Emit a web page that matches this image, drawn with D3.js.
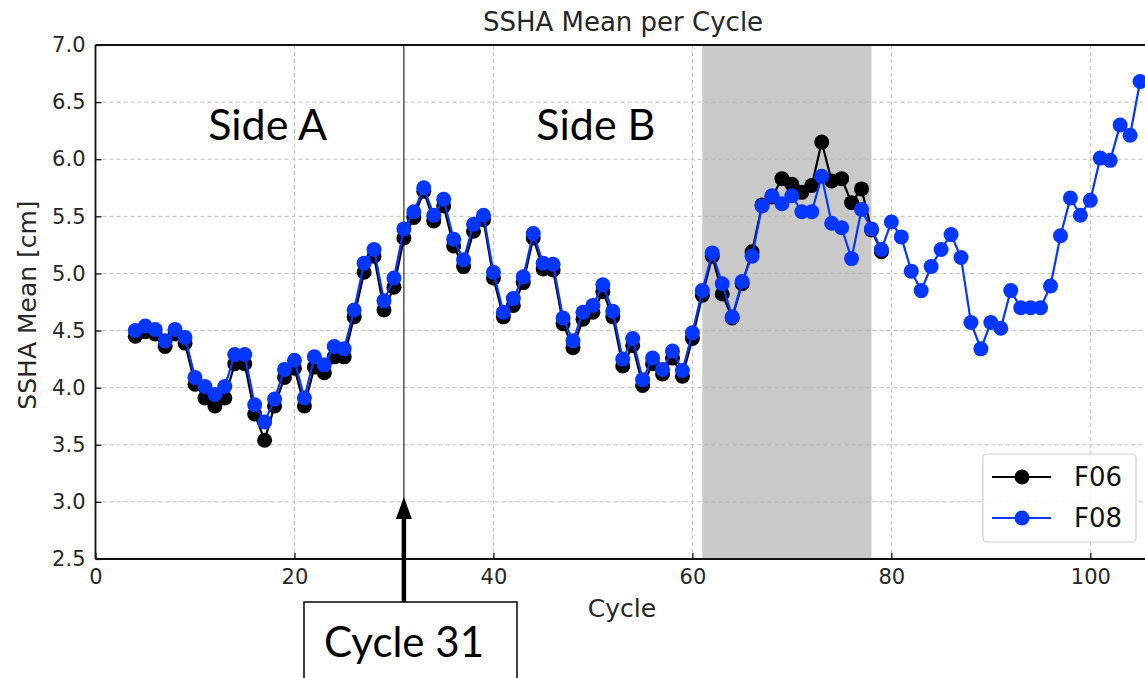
<!DOCTYPE html>
<html>
<head>
<meta charset="utf-8">
<script src="https://cdn.jsdelivr.net/npm/d3@7"></script>
<style>
  html, body { margin: 0; padding: 0; background: #fff; }
  svg { display: block; }
</style>
</head>
<body>
<svg id="chart" width="1145" height="678"></svg>
<script>
// SSHA mean per cycle for the two flight software versions
const cyclesF08 = [4,5,6,7,8,9,10,11,12,13,14,15,16,17,18,19,20,21,22,23,24,25,26,27,28,29,30,
  31,32,33,34,35,36,37,38,39,40,41,42,43,44,45,46,47,48,49,50,51,52,53,54,55,56,57,58,59,60,
  61,62,63,64,65,66,67,68,69,70,71,72,73,74,75,76,77,78,79,80,81,82,83,84,85,86,87,88,89,90,
  91,92,93,94,95,96,97,98,99,100,101,102,103,104,105];
const valuesF08 = [4.50,4.54,4.51,4.41,4.51,4.44,4.09,4.01,3.94,4.01,4.29,4.29,3.85,3.70,3.90,
  4.16,4.24,3.91,4.27,4.20,4.36,4.34,4.68,5.09,5.21,4.76,4.96,
  5.39,5.54,5.75,5.51,5.65,5.30,5.12,5.43,5.51,5.01,4.66,4.78,4.97,5.35,5.09,5.08,4.61,4.41,
  4.66,4.72,4.90,4.67,4.25,4.43,4.07,4.26,4.16,4.32,4.15,4.48,
  4.85,5.18,4.91,4.62,4.93,5.15,5.59,5.68,5.61,5.68,5.54,5.54,5.85,5.44,5.40,5.13,5.56,5.39,
  5.21,5.45,5.32,5.02,4.85,5.06,5.21,5.34,5.14,4.57,4.34,4.57,
  4.52,4.85,4.70,4.70,4.70,4.89,5.33,5.66,5.51,5.64,6.01,5.99,6.30,6.21,6.68];

const cyclesF06 = [4,5,6,7,8,9,10,11,12,13,14,15,16,17,18,19,20,21,22,23,24,25,26,27,28,29,30,
  31,32,33,34,35,36,37,38,39,40,41,42,43,44,45,46,47,48,49,50,51,52,53,54,55,56,57,58,59,60,
  61,62,63,64,65,66,67,68,69,70,71,72,73,74,75,76,77,78,79];
const valuesF06 = [4.45,4.49,4.47,4.36,4.47,4.39,4.03,3.91,3.84,3.91,4.21,4.21,3.77,3.54,3.84,
  4.09,4.17,3.84,4.18,4.13,4.27,4.27,4.62,5.01,5.15,4.68,4.88,
  5.31,5.49,5.72,5.46,5.59,5.24,5.06,5.37,5.47,4.96,4.62,4.72,4.92,5.31,5.04,5.03,4.56,4.35,
  4.60,4.66,4.84,4.62,4.19,4.37,4.02,4.21,4.12,4.26,4.10,4.43,
  4.81,5.15,4.82,4.61,4.91,5.19,5.60,5.67,5.83,5.78,5.71,5.77,6.15,5.81,5.83,5.62,5.74,5.38,5.19];

const xTicks = [0, 20, 40, 60, 80, 100];
const yTicks = [2.5, 3.0, 3.5, 4.0, 4.5, 5.0, 5.5, 6.0, 6.5, 7.0];
const shadedSpan = [61, 78];
const switchCycle = 31;
const sideLabels = [{text: "Side A", cycle: 17.3}, {text: "Side B", cycle: 50.3}];
const seriesNames = ["F06", "F08"];

const W = 1145, H = 678;
const plot = {left: 95.5, right: 1153, top: 45, bottom: 559};
const svg = d3.select("#chart");

const x = d3.scaleLinear().domain([0, 106.3]).range([plot.left, plot.right]);
const y = d3.scaleLinear().domain([2.5, 7.0]).range([plot.bottom, plot.top]);

const font = "DejaVu Sans, sans-serif";
const tickColor = "#262626";

svg.append("defs").append("clipPath").attr("id", "plotClip")
  .append("rect").attr("x", plot.left).attr("y", plot.top)
  .attr("width", plot.right - plot.left).attr("height", plot.bottom - plot.top);

// shaded interval
svg.append("rect")
  .attr("x", x(shadedSpan[0])).attr("y", plot.top)
  .attr("width", x(shadedSpan[1]) - x(shadedSpan[0]))
  .attr("height", plot.bottom - plot.top)
  .attr("fill", "#c9c9c9");

// grid
const grid = svg.append("g").attr("stroke", "#b8b8b8").attr("stroke-width", 1)
  .attr("stroke-dasharray", "4,3").attr("opacity", 0.9);
grid.selectAll("line.gx").data(xTicks.filter(d => d > 0)).join("line")
  .attr("x1", d => x(d)).attr("x2", d => x(d))
  .attr("y1", plot.top).attr("y2", plot.bottom);
grid.selectAll("line.gy").data(yTicks.filter(d => d > 2.5 && d < 7.0)).join("line")
  .attr("x1", plot.left).attr("x2", plot.right)
  .attr("y1", d => y(d)).attr("y2", d => y(d));

// axes with inward ticks
const xAxis = d3.axisBottom(x).tickValues(xTicks).tickFormat(d3.format("d"))
  .tickSizeInner(-6).tickSizeOuter(0).tickPadding(10);
const gx = svg.append("g").attr("transform", `translate(0,${plot.bottom})`).call(xAxis);
gx.select(".domain").remove();
gx.selectAll("text").attr("font-family", font).attr("font-size", 21).attr("fill", tickColor);
gx.selectAll("line").attr("stroke", "#000").attr("stroke-width", 1.2);

const yAxis = d3.axisLeft(y).tickValues(yTicks).tickFormat(d3.format(".1f"))
  .tickSizeInner(-6).tickSizeOuter(0).tickPadding(10);
const gy = svg.append("g").attr("transform", `translate(${plot.left},0)`).call(yAxis);
gy.select(".domain").remove();
gy.selectAll("text").attr("font-family", font).attr("font-size", 21).attr("fill", tickColor);
gy.selectAll("line").attr("stroke", "#000").attr("stroke-width", 1.2);

// cycle switch marker line
svg.append("line")
  .attr("x1", x(switchCycle)).attr("x2", x(switchCycle))
  .attr("y1", plot.top).attr("y2", plot.bottom)
  .attr("stroke", "#000").attr("stroke-width", 1);

// series
const series = [
  {name: seriesNames[0], xs: cyclesF06, vs: valuesF06, color: "#000000"},
  {name: seriesNames[1], xs: cyclesF08, vs: valuesF08, color: "#0336ff"}
];
const line = d3.line().x(d => x(d[0])).y(d => y(d[1]));
const marks = svg.append("g").attr("clip-path", "url(#plotClip)");
series.forEach(s => {
  const pts = s.xs.map((c, i) => [c, s.vs[i]]);
  const g = marks.append("g");
  g.append("path").datum(pts).attr("d", line)
    .attr("fill", "none").attr("stroke", s.color).attr("stroke-width", 2.2);
  g.selectAll("circle").data(pts).join("circle")
    .attr("cx", d => x(d[0])).attr("cy", d => y(d[1])).attr("r", 7.5)
    .attr("fill", s.color);
});

// spines
const spines = svg.append("g").attr("stroke", "#111").attr("stroke-width", 1.8);
spines.append("line").attr("x1", plot.left).attr("x2", plot.left).attr("y1", plot.top).attr("y2", plot.bottom);
spines.append("line").attr("x1", plot.left).attr("x2", plot.right).attr("y1", plot.bottom).attr("y2", plot.bottom);
spines.append("line").attr("x1", plot.left).attr("x2", plot.right).attr("y1", plot.top).attr("y2", plot.top);

// legend
const lg = svg.append("g");
lg.append("rect").attr("x", 983).attr("y", 454).attr("width", 153).attr("height", 88)
  .attr("rx", 4).attr("fill", "#fff").attr("fill-opacity", 0.85)
  .attr("stroke", "#d0d0d0").attr("stroke-width", 1.2);
series.forEach((s, i) => {
  const ly = 477 + i * 41;
  lg.append("line").attr("x1", 992).attr("x2", 1051).attr("y1", ly).attr("y2", ly)
    .attr("stroke", s.color).attr("stroke-width", 2.2);
  lg.append("circle").attr("cx", 1022).attr("cy", ly).attr("r", 7.5).attr("fill", s.color);
  lg.append("text").attr("x", 1074).attr("y", ly).attr("dy", "0.36em")
    .attr("font-family", font).attr("font-size", 26).attr("fill", "#111").text(s.name);
});

// titles
svg.append("text").attr("x", 623).attr("y", 31)
  .attr("text-anchor", "middle").attr("font-family", font).attr("font-size", 26)
  .attr("fill", tickColor).text("SSHA Mean per Cycle");
svg.append("text").attr("x", 622).attr("y", 617)
  .attr("text-anchor", "middle").attr("font-family", font).attr("font-size", 25)
  .attr("fill", tickColor).text("Cycle");
svg.append("text").attr("transform", `translate(36,${(plot.top + plot.bottom) / 2 + 3}) rotate(-90)`)
  .attr("text-anchor", "middle").attr("font-family", font).attr("font-size", 25)
  .attr("fill", tickColor).text("SSHA Mean [cm]");

// side annotations
const annFont = "Lato, 'Open Sans', sans-serif";
sideLabels.forEach(s => {
  svg.append("text").attr("x", x(s.cycle)).attr("y", 140)
    .attr("text-anchor", "middle").attr("font-family", annFont).attr("font-size", 43)
    .attr("fill", "#000").text(s.text);
});

// callout box with arrow pointing at the switch cycle
const ax = x(switchCycle);
svg.append("line").attr("x1", ax).attr("x2", ax).attr("y1", 602).attr("y2", 515)
  .attr("stroke", "#000").attr("stroke-width", 4.5);
svg.append("path")
  .attr("d", `M${ax},497 L${ax - 8},519 L${ax + 8},519 Z`)
  .attr("fill", "#000");
svg.append("rect").attr("x", 304).attr("y", 602).attr("width", 213).attr("height", 90)
  .attr("fill", "#fff").attr("stroke", "#000").attr("stroke-width", 1.5);
svg.append("text").attr("x", 404).attr("y", 657)
  .attr("text-anchor", "middle").attr("font-family", annFont).attr("font-size", 42)
  .attr("fill", "#000").text("Cycle " + switchCycle);
</script>
</body>
</html>
